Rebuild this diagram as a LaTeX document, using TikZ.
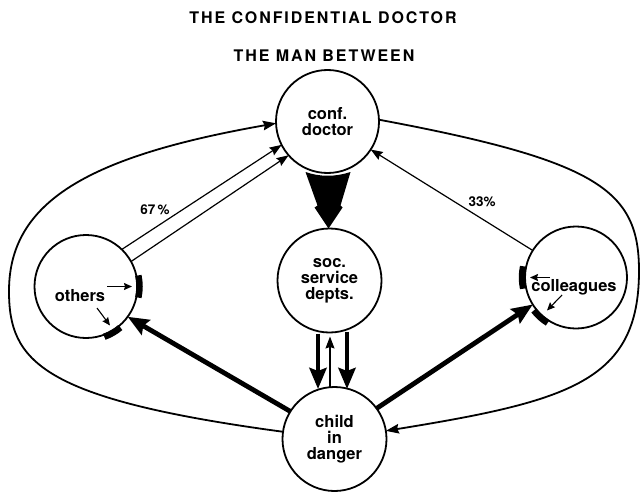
\documentclass[tikz,border=0pt]{standalone}
\usepackage{fontspec}
\setmainfont{TeX Gyre Heros}
\usepackage{tikz}
\usetikzlibrary{arrows.meta, calc}

\begin{document}
\begin{tikzpicture}[x=1pt, y=1pt,
    bubble/.style={circle, draw, line width=1.8pt, minimum size=104pt, inner sep=0pt, outer sep=0pt, align=center, font=\fontsize{16.5}{16}\selectfont\bfseries},
    word/.style={font=\fontsize{16.5}{16}\selectfont\bfseries},
    pct/.style={font=\fontsize{13.5}{14}\selectfont\bfseries},
    headline/.style={font=\fontsize{16}{16}\selectfont\bfseries\addfontfeature{LetterSpace=12}},
    slim/.style={line width=1.2pt, -{Stealth[length=12pt, width=9pt, inset=1.5pt]}},
    loopline/.style={line width=1.8pt, -{Stealth[length=13pt, width=9.5pt, inset=1.5pt]}},
    heavy/.style={line width=4.8pt, -{Stealth[length=21pt, width=17pt, inset=3pt]}},
    shortarr/.style={line width=1.1pt, -{Stealth[length=8pt, width=7pt, inset=1pt]}},
    stopbar/.style={line width=6.5pt}]
    \useasboundingbox (0,0) rectangle (642,491);

    % 标题
    \node[headline] (title) at (323,473) {THE CONFIDENTIAL DOCTOR};
    \node[headline] (subtitle) at (324,435) {THE MAN BETWEEN};

    % 五个圆
    \node[bubble, minimum size=103pt] (doctor) at (327.5,369.5) {conf.\\doctor};
    \node[bubble] (soc) at (329.5,210.5) {soc.\\service\\depts.};
    \node[bubble] (child) at (334.5,52) {child\\in\\danger};
    \node[bubble, minimum size=103pt] (others) at (86,204.5) {};
    \node[bubble, minimum size=102pt] (colleagues) at (576,213.5) {};
    \node[word] (otherstext) at (80,195) {others};
    \node[word] (collstext) at (574,204) {colleagues};

    % 外圈两条长线
    \coordinate (lw) at (9,200);
    \coordinate (re) at (639,220);
    \draw[loopline] (child.172) .. controls (40,92) and (9,130) .. (lw)
        .. controls (9,290) and (90,335) .. (doctor.182);
    \draw[loopline] (doctor.2) .. controls (600,330) and (639,300) .. (re)
        .. controls (639,110) and (570,90) .. (child.9);

    % 大楔形箭头
    \fill ($(doctor.south)+(-22,1)$) .. controls ($(doctor.south)+(-8,-4)$) and ($(doctor.south)+(8,-4)$) .. ($(doctor.south)+(23,1)$)
        -- ($(soc.north)+(11,23)$) -- ($(soc.north)+(13,21)$) -- ($(soc.north)+(-1,0)$)
        -- ($(soc.north)+(-15,21)$) -- ($(soc.north)+(-12,23)$) -- cycle;

    % 社会服务部门与儿童之间
    \draw[heavy] ($(soc.south)+(-11.5,-1)$) -- ($(child.north)+(-16.5,-2)$);
    \draw[heavy] ($(soc.south)+(17.5,1)$) -- ($(child.north)+(12.5,-2)$);
    \draw[slim] ($(child.north)+(-4.5,-1)$) -- ($(soc.south)+(0.5,-4)$);

    % 儿童到两侧
    \draw[heavy] (child.148) -- (others.-36);
    \draw[heavy] (child.36) -- (colleagues.212);

    % 报告到医生
    \draw[slim] (others.46) -- (doctor.207);
    \draw[slim] (others.29) -- (doctor.221);
    \draw[slim] (colleagues.148) -- (doctor.-33);
    \node[pct] (p67) at (155,281) {67\,\%};
    \node[pct] (p33) at (482,289) {33\%};

    % 圆上的小黑块和小箭头
    \draw[stopbar] ($(others.center)+(-12:53.5)$) arc[start angle=-12, end angle=12, radius=53.5pt];
    \draw[stopbar] ($(others.center)+(-70:53.5)$) arc[start angle=-70, end angle=-50, radius=53.5pt];
    \draw[stopbar] ($(colleagues.center)+(168:54)$) arc[start angle=168, end angle=192, radius=54pt];
    \draw[stopbar] ($(colleagues.center)+(218:53.5)$) arc[start angle=218, end angle=238, radius=53.5pt];
    \draw[shortarr] ($(others.center)+(21,0)$) -- ($(others.center)+(46,0)$);
    \draw[shortarr] ($(others.center)+(11,-21.5)$) -- ($(others.center)+(24,-39)$);
    \draw[shortarr] ($(colleagues.center)+(-26,0)$) -- ($(colleagues.center)+(-46,0)$);
    \draw[shortarr] ($(colleagues.center)+(-14,-17.5)$) -- ($(colleagues.center)+(-29,-33)$);
\end{tikzpicture}
\end{document}
